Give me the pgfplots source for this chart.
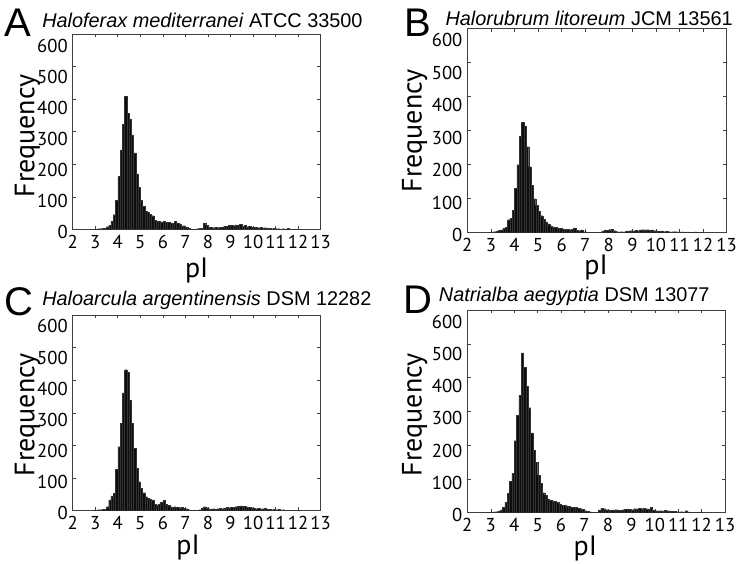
\documentclass[border=0pt]{standalone}
\usepackage{pgfplots}
\pgfplotsset{compat=1.18}
\usepackage{fontspec}
\setmainfont{Liberation Sans}
\newfontfamily\myr{PT Sans}

\pgfplotsset{
  hist/.style={
    scale only axis,
    xmin=2, xmax=13, ymin=0, ymax=600,
    xtick={2,...,13}, ytick={0,100,...,600},
    x tick label as interval=false,
    tick align=inside, major tick length=2.5pt,
    xtick pos=both, ytick pos=both,
    xticklabel pos=lower, yticklabel pos=left,
    axis line style={black!75, line width=0.5pt},
    tick style={black!75, line width=0.4pt},
    /pgf/number format/assume math mode=true,
    ticklabel style={font=\myr\fontsize{14}{14}\selectfont, black},
    xticklabel style={yshift=-1pt},
    yticklabel style={inner sep=1pt, xshift=-2.5pt, yshift={-2pt-1.1pt*\ticknum}},
  },
  bars/.style={ybar interval, fill=black!95, draw=black!80, line width=0.15pt},
}
\newcommand\panel[1]{\fontsize{30}{30}\selectfont #1}
\newcommand\ttl{\fontsize{14.9}{15}\selectfont}
\newcommand\lab{\myr\fontsize{21}{21}\selectfont}

\begin{document}
\begin{tikzpicture}
\path[use as bounding box] (0,0) rectangle (555pt,423pt);

% A
\begin{axis}[hist, at={(54.5pt,251pt)}, anchor=south west, width=186pt, height=146.5pt]
\addplot[bars] coordinates {
(2.8,1) (2.9,0) (3.0,1) (3.1,2) (3.2,2) (3.3,3) (3.4,4) (3.5,8) (3.6,12) (3.7,25)
(3.8,45) (3.9,90) (4.0,162) (4.1,244) (4.2,323) (4.3,408) (4.4,356) (4.5,338) (4.6,290) (4.7,235)
(4.8,170) (4.9,130) (5.0,90) (5.1,70) (5.2,57) (5.3,52) (5.4,46) (5.5,42) (5.6,27) (5.7,24)
(5.8,25) (5.9,23) (6.0,24) (6.1,22) (6.2,21) (6.3,20) (6.4,18) (6.5,24) (6.6,20) (6.7,17)
(6.8,10) (6.9,11) (7.0,6) (7.1,3) (7.2,1) (7.3,0) (7.4,1) (7.5,2) (7.6,3) (7.7,4)
(7.8,18) (7.9,12) (8.0,7) (8.1,6) (8.2,5) (8.3,6) (8.4,5) (8.5,6) (8.6,7) (8.7,10)
(8.8,9) (8.9,12) (9.0,13) (9.1,11) (9.2,14) (9.3,12) (9.4,16) (9.5,10) (9.6,12) (9.7,8)
(9.8,9) (9.9,7) (10.0,6) (10.1,7) (10.2,5) (10.3,6) (10.4,4) (10.5,5) (10.6,3) (10.7,3)
(10.8,2) (10.9,3) (11.0,2) (11.1,2) (11.2,1) (11.3,2) (11.4,1) (11.5,3) (11.6,0) (11.7,1)
(11.8,0) (11.9,0) (12.0,1) (12.1,0)
};
\end{axis}

% B
\begin{axis}[hist, at={(350.5pt,248.5pt)}, anchor=south west, width=194.5pt, height=153pt]
\addplot[bars] coordinates {
(2.9,1) (3.0,2) (3.1,3) (3.2,4) (3.3,7) (3.4,8) (3.5,12) (3.6,16) (3.7,38) (3.8,42)
(3.9,65) (4.0,130) (4.1,200) (4.2,284) (4.3,325) (4.4,314) (4.5,253) (4.6,194) (4.7,140) (4.8,100)
(4.9,80) (5.0,62) (5.1,50) (5.2,40) (5.3,32) (5.4,26) (5.5,20) (5.6,17) (5.7,15) (5.8,13)
(5.9,12) (6.0,11) (6.1,10) (6.2,10) (6.3,9) (6.4,10) (6.5,14) (6.6,7) (6.7,6) (6.8,8)
(6.9,3) (7.0,2) (7.1,1) (7.2,1) (7.3,0) (7.4,1) (7.5,1) (7.6,0) (7.7,5) (7.8,8)
(7.9,7) (8.0,9) (8.1,10) (8.2,6) (8.3,3) (8.4,2) (8.5,3) (8.6,2) (8.7,4) (8.8,5)
(8.9,6) (9.0,5) (9.1,7) (9.2,6) (9.3,8) (9.4,9) (9.5,8) (9.6,9) (9.7,7) (9.8,8)
(9.9,6) (10.0,5) (10.1,4) (10.2,5) (10.3,3) (10.4,4) (10.5,3) (10.6,2) (10.7,3) (10.8,3)
(10.9,2) (11.0,2) (11.1,2) (11.2,1) (11.3,2) (11.4,1) (11.5,1) (11.6,2) (11.7,1) (11.8,0)
(11.9,1) (12.0,0)
};
\end{axis}

% C
\begin{axis}[hist, at={(54.5pt,40pt)}, anchor=south west, width=186pt, height=146.8pt]
\addplot[bars] coordinates {
(2.9,1) (3.0,2) (3.1,3) (3.2,3) (3.3,4) (3.4,4) (3.5,12) (3.6,33) (3.7,45) (3.8,53)
(3.9,127) (4.0,196) (4.1,267) (4.2,361) (4.3,432) (4.4,425) (4.5,339) (4.6,267) (4.7,191) (4.8,130)
(4.9,89) (5.0,68) (5.1,55) (5.2,43) (5.3,37) (5.4,35) (5.5,33) (5.6,20) (5.7,18) (5.8,21)
(5.9,25) (6.0,31) (6.1,20) (6.2,16) (6.3,12) (6.4,11) (6.5,12) (6.6,10) (6.7,9) (6.8,10)
(6.9,7) (7.0,6) (7.1,3) (7.2,2) (7.3,1) (7.4,2) (7.5,1) (7.6,3) (7.7,8) (7.8,12)
(7.9,9) (8.0,6) (8.1,5) (8.2,6) (8.3,5) (8.4,6) (8.5,7) (8.6,6) (8.7,8) (8.8,10)
(8.9,9) (9.0,11) (9.1,10) (9.2,12) (9.3,14) (9.4,15) (9.5,13) (9.6,14) (9.7,10) (9.8,11)
(9.9,9) (10.0,7) (10.1,6) (10.2,7) (10.3,5) (10.4,6) (10.5,8) (10.6,5) (10.7,4) (10.8,3)
(10.9,4) (11.0,3) (11.1,4) (11.2,2) (11.3,3) (11.4,2) (11.5,2) (11.6,1) (11.7,1) (11.8,1)
(11.9,0) (12.0,1) (12.1,0)
};
\end{axis}

% D
\begin{axis}[hist, at={(350.5pt,38.5pt)}, anchor=south west, width=193.3pt, height=152pt]
\addplot[bars] coordinates {
(2.8,1) (2.9,1) (3.0,2) (3.1,2) (3.2,3) (3.3,5) (3.4,8) (3.5,16) (3.6,30) (3.7,57)
(3.8,92) (3.9,116) (4.0,213) (4.1,289) (4.2,348) (4.3,473) (4.4,431) (4.5,374) (4.6,311) (4.7,236)
(4.8,185) (4.9,149) (5.0,111) (5.1,87) (5.2,59) (5.3,52) (5.4,39) (5.5,37) (5.6,35) (5.7,33)
(5.8,31) (5.9,26) (6.0,22) (6.1,21) (6.2,18) (6.3,18) (6.4,16) (6.5,16) (6.6,15) (6.7,13)
(6.8,12) (6.9,10) (7.0,6) (7.1,4) (7.2,2) (7.3,1) (7.4,1) (7.5,0) (7.6,8) (7.7,13)
(7.8,12) (7.9,9) (8.0,8) (8.1,7) (8.2,8) (8.3,9) (8.4,8) (8.5,7) (8.6,9) (8.7,10)
(8.8,11) (8.9,10) (9.0,9) (9.1,12) (9.2,11) (9.3,13) (9.4,12) (9.5,13) (9.6,12) (9.7,11)
(9.8,16) (9.9,7) (10.0,6) (10.1,5) (10.2,6) (10.3,5) (10.4,7) (10.5,6) (10.6,5) (10.7,4)
(10.8,4) (10.9,3) (11.0,2) (11.1,3) (11.2,2) (11.3,6) (11.4,2) (11.5,1) (11.6,1) (11.7,1)
(11.8,0) (11.9,1) (12.0,0)
};
\end{axis}

% panel letters and titles
\node[anchor=base west, inner sep=0] at (3.5pt,395.5pt) {\panel{A}};
\node[anchor=base west, inner sep=0] at (31.5pt,402.5pt) {\ttl\textit{Haloferax mediterranei} ATCC 33500};
\node[anchor=base west, inner sep=0] at (303.5pt,395.5pt) {\panel{B}};
\node[anchor=base west, inner sep=0] at (334pt,404pt) {\ttl\textit{Halorubrum litoreum} JCM 13561};
\node[anchor=base west, inner sep=0] at (3.5pt,186pt) {\panel{C}};
\node[anchor=base west, inner sep=0] at (31.5pt,194pt) {\ttl\textit{Haloarcula argentinensis} DSM 12282};
\node[anchor=base west, inner sep=0] at (302.5pt,187.5pt) {\panel{D}};
\node[anchor=base west, inner sep=0] at (329pt,196.5pt) {\ttl\textit{Natrialba aegyptia} DSM 13077};

% axis labels
\node[rotate=90, inner sep=0] at (20.5pt,321pt) {\lab Frequency};
\node[rotate=90, inner sep=0] at (311pt,325pt) {\lab Frequency};
\node[rotate=90, inner sep=0] at (20.5pt,112pt) {\lab Frequency};
\node[rotate=90, inner sep=0] at (311pt,112pt) {\lab Frequency};
\node[inner sep=0] at (147.5pt,220pt) {\lab pI};
\node[inner sep=0] at (447pt,222pt) {\lab pI};
\node[inner sep=0] at (141pt,12pt) {\lab pI};
\node[inner sep=0] at (439pt,11.5pt) {\lab pI};
\end{tikzpicture}
\end{document}
